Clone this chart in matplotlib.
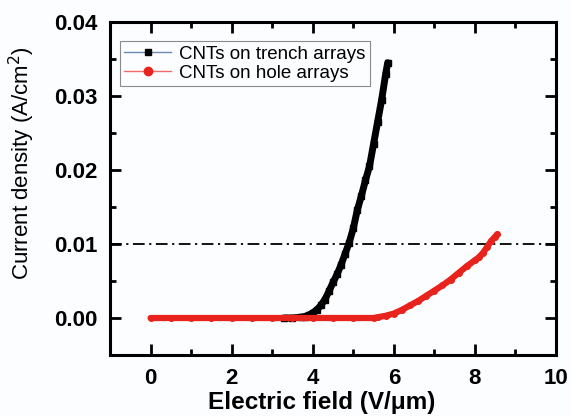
import matplotlib
matplotlib.use("Agg")
import matplotlib.pyplot as plt
from matplotlib.lines import Line2D
from matplotlib.ticker import MultipleLocator, FormatStrFormatter

plt.rcParams['font.family'] = ['Liberation Sans', 'DejaVu Sans']

# Data
trench_E = [3.3, 3.5, 3.7, 3.8, 3.9, 4.0, 4.1, 4.2, 4.3, 4.4, 4.5, 4.6, 4.7,
            4.8, 4.9, 5.0, 5.1, 5.2, 5.3, 5.4, 5.5, 5.6, 5.7, 5.8, 5.85]
trench_J = [0.0, 0.0, 0.0001, 0.0002, 0.0004, 0.0007, 0.0011, 0.0017, 0.0025,
            0.0036, 0.0048, 0.0059, 0.0072, 0.0087, 0.0102, 0.0121, 0.0146,
            0.0165, 0.0186, 0.0205, 0.0235, 0.0265, 0.0295, 0.0330, 0.0345]

hole_E = [0.0, 0.5, 1.0, 1.5, 2.0, 2.5, 3.0, 3.5, 4.0, 4.5, 5.0, 5.5, 5.6, 5.8,
          6.0, 6.2, 6.4, 6.6, 6.8, 7.0, 7.2, 7.4, 7.6, 7.8, 8.0, 8.1, 8.2,
          8.3, 8.4, 8.5, 8.55]
hole_J = [0.0, 0.0, 0.0, 0.0, 0.0, 0.0, 0.0, 0.0, 0.0, 0.0, 0.0, 0.0, 0.0001,
          0.0003, 0.0006, 0.0011, 0.0017, 0.0023, 0.0030, 0.0037, 0.0044,
          0.0052, 0.0061, 0.0070, 0.0078, 0.0082, 0.0088, 0.0096, 0.0104,
          0.0110, 0.0113]

ref_level = 0.01
labels = ['CNTs on trench arrays', 'CNTs on hole arrays']
xticks = [0, 2, 4, 6, 8, 10]
yticks = [0.00, 0.01, 0.02, 0.03, 0.04]

red = '#e8221c'
bg = '#fcfdff'

fig = plt.figure(figsize=(5.71, 4.16), dpi=100, facecolor=bg)
ax = fig.add_axes([110/571, 61/416, 446/571, 333/416], facecolor=bg)

ax.axhline(ref_level, color='black', lw=1.3, linestyle=(0, (6.5, 2.5, 1.2, 2.5)), zorder=1)

ax.plot(trench_E, trench_J, color='black', lw=5, marker='s', ms=4,
        solid_capstyle='round', solid_joinstyle='round', zorder=2)
ax.plot(hole_E, hole_J, color=red, lw=4.5, marker='o', ms=4,
        solid_capstyle='round', solid_joinstyle='round', zorder=3)

ax.set_xlim(-1, 10)
ax.set_ylim(-0.005, 0.04)
ax.set_xticks(xticks)
ax.set_yticks(yticks)
ax.xaxis.set_minor_locator(MultipleLocator(1))
ax.yaxis.set_minor_locator(MultipleLocator(0.005))
ax.yaxis.set_major_formatter(FormatStrFormatter('%.2f'))

ax.tick_params(which='both', direction='in', top=True, right=True, width=2)
ax.tick_params(which='major', length=8)
ax.tick_params(which='minor', length=4)
ax.tick_params(axis='x', which='major', pad=9)
ax.tick_params(axis='y', which='major', pad=9)
for lab in ax.get_xticklabels() + ax.get_yticklabels():
    lab.set_fontsize(16)
    lab.set_fontweight('bold')

for s in ax.spines.values():
    s.set_linewidth(2.2)

ax.set_xlabel('Electric field (V/\u03bcm)', fontsize=17.5, fontweight='bold')
ax.set_ylabel('Current density (A/cm$^2$)', fontsize=16)
ax.xaxis.set_label_coords(0.474, -0.108)
ax.yaxis.set_label_coords(-0.164, 0.575)

handles = [
    Line2D([], [], color='#6a8cb0', lw=1, marker='s', ms=5,
           markerfacecolor='black', markeredgecolor='black'),
    Line2D([], [], color='#f06a6a', lw=1, marker='o', ms=6,
           markerfacecolor=red, markeredgecolor=red),
]
leg = ax.legend(handles, labels, loc='upper left', bbox_to_anchor=(0.022, 0.943),
                fontsize=13.5, frameon=True, fancybox=False, framealpha=1,
                edgecolor='#8a8a8a', handlelength=2.5, handletextpad=0.4,
                borderpad=0.25, labelspacing=0.1, borderaxespad=0)
leg.get_frame().set_linewidth(0.8)
leg.get_frame().set_facecolor(bg)

fig.savefig('out.png', dpi=100, facecolor=bg)
